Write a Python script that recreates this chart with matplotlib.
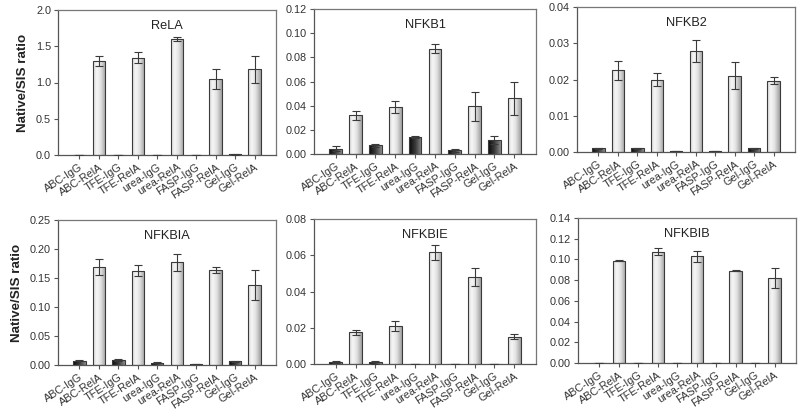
import numpy as np
import matplotlib
matplotlib.use("Agg")
import matplotlib.pyplot as plt
from matplotlib.colors import LinearSegmentedColormap
from matplotlib.ticker import FormatStrFormatter, MultipleLocator

plt.rcParams['font.family'] = ['Liberation Sans', 'DejaVu Sans']

categories = ["ABC-IgG", "ABC-RelA", "TFE-IgG", "TFE-RelA", "urea-IgG",
              "urea-RelA", "FASP-IgG", "FASP-RelA", "Gel-IgG", "Gel-RelA"]

rela_vals = [0.0, 1.297, 0.003, 1.343, 0.003, 1.598, 0.0, 1.048, 0.01, 1.18]
rela_err = [0.0, 0.075, 0.0, 0.08, 0.0, 0.025, 0.0, 0.14, 0.004, 0.185]

nfkb1_vals = [0.0044, 0.0319, 0.0072, 0.039, 0.014, 0.087, 0.003, 0.0396, 0.0116, 0.046]
nfkb1_err = [0.002, 0.0036, 0.0013, 0.005, 0.0005, 0.0037, 0.0015, 0.012, 0.0035, 0.0139]

nfkb2_vals = [0.001, 0.0225, 0.001, 0.020, 0.0003, 0.0279, 0.0002, 0.0211, 0.001, 0.0197]
nfkb2_err = [0.0001, 0.0026, 0.0001, 0.0017, 0.0, 0.003, 0.0, 0.0037, 0.0001, 0.001]

nfkbia_vals = [0.0075, 0.169, 0.008, 0.1626, 0.004, 0.177, 0.0017, 0.1638, 0.0063, 0.1385]
nfkbia_err = [0.0005, 0.013, 0.0015, 0.009, 0.0005, 0.0145, 0.0002, 0.0047, 0.001, 0.026]

nfkbie_vals = [0.0011, 0.0175, 0.0009, 0.0208, 0.0, 0.0616, 0.0, 0.0478, 0.0002, 0.0151]
nfkbie_err = [0.0003, 0.0014, 0.0008, 0.0027, 0.0, 0.0043, 0.0, 0.005, 0.0, 0.0012]

nfkbib_vals = [0.0003, 0.0988, 0.0001, 0.1075, 0.0, 0.103, 0.0, 0.0891, 0.0003, 0.082]
nfkbib_err = [0.0, 0.0005, 0.0, 0.0037, 0.0, 0.005, 0.0, 0.0006, 0.0, 0.0095]

panels = [
    ("ReLA", rela_vals, rela_err, 2.0, 0.5, "%.1f", True),
    ("NFKB1", nfkb1_vals, nfkb1_err, 0.12, 0.02, "%.2f", False),
    ("NFKB2", nfkb2_vals, nfkb2_err, 0.04, 0.01, "%.2f", False),
    ("NFKBIA", nfkbia_vals, nfkbia_err, 0.25, 0.05, "%.2f", True),
    ("NFKBIE", nfkbie_vals, nfkbie_err, 0.08, 0.02, "%.2f", False),
    ("NFKBIB", nfkbib_vals, nfkbib_err, 0.14, 0.02, "%.2f", False),
]

# axes rectangles in figure pixels (left, right, top, bottom)
W, H = 800, 416
rects_px = [(58, 276, 10, 155), (314, 536, 9, 154), (577, 795, 7, 152),
            (58, 276, 220, 365), (314, 536, 219, 364), (578, 796, 218, 363)]

light_cmap = LinearSegmentedColormap.from_list(
    "light", [(0.0, "#d8d8d8"), (0.3, "#f6f6f6"), (0.6, "#e2e2e2"), (1.0, "#a0a0a0")])
dark_cmap = LinearSegmentedColormap.from_list(
    "dark", [(0.0, "#0a0a0a"), (0.5, "#3a3a3a"), (1.0, "#8c8c8c")])

grad = np.linspace(0, 1, 64).reshape(1, -1)

fig = plt.figure(figsize=(8, 4.16), dpi=100)
x = np.arange(len(categories))

for (title, vals, errs, ymax, step, fmt, ylab), (l, r, t, b) in zip(panels, rects_px):
    ax = fig.add_axes([l / W, 1 - b / H, (r - l) / W, (b - t) / H])
    bars = ax.bar(x, vals, width=0.64, facecolor="none", edgecolor="#3a3a3a",
                  linewidth=0.8, zorder=3)
    for i, p in enumerate(bars.patches):
        cmap = dark_cmap if "IgG" in categories[i] else light_cmap
        x0, y0 = p.get_x(), p.get_y()
        w, h = p.get_width(), p.get_height()
        if h <= 0:
            continue
        im = ax.imshow(grad, cmap=cmap, aspect="auto",
                       extent=(x0, x0 + w, y0, y0 + h), zorder=2,
                       interpolation="bilinear")
        im.set_clip_path(p)
    ax.errorbar(x, vals, yerr=errs, fmt="none", ecolor="#3a3a3a",
                elinewidth=0.8, capsize=3, capthick=0.8, zorder=4)
    ax.set_xlim(-1.1, len(categories) - 1 + 1.1)
    ax.set_ylim(0, ymax)
    ax.yaxis.set_major_locator(MultipleLocator(step))
    ax.yaxis.set_major_formatter(FormatStrFormatter(fmt))
    ax.set_xticks(x)
    ax.set_xticklabels(categories, rotation=33, ha="right",
                       rotation_mode="anchor", fontsize=7.8, color="#333333")
    ax.tick_params(axis="y", labelsize=7.8, labelcolor="#333333",
                   direction="out", length=3, width=0.8, color="#555555", pad=2)
    ax.tick_params(axis="x", direction="out", length=3, width=0.8,
                   color="#555555", pad=2)
    for side in ["left", "bottom"]:
        ax.spines[side].set_color("#555555")
        ax.spines[side].set_linewidth(0.9)
    for side in ["top", "right"]:
        ax.spines[side].set_color("#777777")
        ax.spines[side].set_linewidth(0.9)
    ax.text(0.5, 0.93, title, transform=ax.transAxes, ha="center", va="top",
            fontsize=9.2, color="#222222")
    if ylab:
        ax.set_ylabel("Native/SIS ratio", fontsize=9.6, fontweight="bold",
                      color="#222222", labelpad=5)

fig.savefig("out.png", dpi=100)
